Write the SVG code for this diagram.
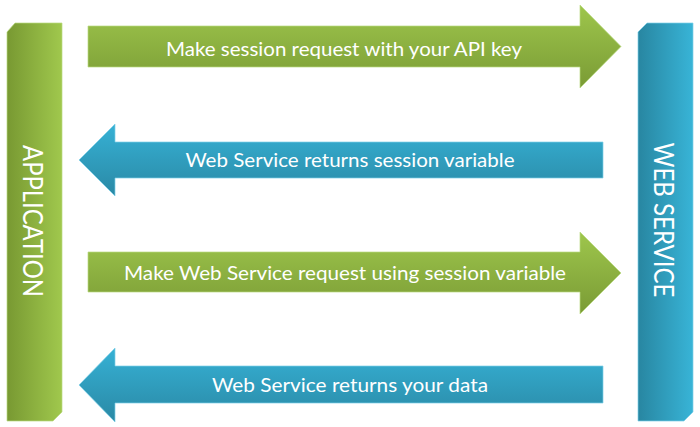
<svg xmlns="http://www.w3.org/2000/svg" width="700" height="427" viewBox="0 0 700 427">
  <defs>
    <linearGradient id="gArrow" x1="0" y1="0" x2="0" y2="1">
      <stop offset="0" stop-color="#9ec64c"/>
      <stop offset="1" stop-color="#7a9b35"/>
    </linearGradient>
    <linearGradient id="bArrow" x1="0" y1="0" x2="0" y2="1">
      <stop offset="0" stop-color="#36b1d5"/>
      <stop offset="1" stop-color="#2a89a5"/>
    </linearGradient>
    <linearGradient id="gBar" x1="0" y1="0" x2="1" y2="0">
      <stop offset="0" stop-color="#789932"/>
      <stop offset="1" stop-color="#a0c84d"/>
    </linearGradient>
    <linearGradient id="bBar" x1="0" y1="0" x2="1" y2="0">
      <stop offset="0" stop-color="#2886a1"/>
      <stop offset="1" stop-color="#38b4d7"/>
    </linearGradient>
  </defs>
  <style>
    .lbl { font-family: Lato, "Open Sans", "Liberation Sans", sans-serif; font-size: 20px; fill: #ffffff; text-anchor: middle; }
    .side { font-family: Lato, "Open Sans", "Liberation Sans", sans-serif; font-size: 27px; fill: #ffffff; text-anchor: middle; dominant-baseline: central; }
    .ga { fill: url(#gArrow); stroke: #b9da80; stroke-opacity: 0.7; stroke-width: 1; }
    .ba { fill: url(#bArrow); stroke: #7fd0e8; stroke-opacity: 0.7; stroke-width: 1; }
  </style>
  <rect width="700" height="427" fill="#ffffff"/>

  <g id="application">
    <polygon points="15,23 62,23 62,412 53,421 7,421 7,32" fill="url(#gBar)" stroke="#b9da80" stroke-opacity="0.7"/>
    <text class="side" transform="translate(33,221) rotate(90)" textLength="152" lengthAdjust="spacingAndGlyphs">APPLICATION</text>
  </g>

  <g id="web-service">
    <polygon points="647,23 693,23 693,412 684,421 638,421 638,32" fill="url(#bBar)" stroke="#7fd0e8" stroke-opacity="0.7"/>
    <text class="side" transform="translate(664,220) rotate(90)" textLength="155" lengthAdjust="spacingAndGlyphs">WEB SERVICE</text>
  </g>

  <g id="connectors">
    <g id="arrow-1">
      <polygon class="ga" points="88,26 580,26 580,5 621,46.5 580,88 580,67 88,67"/>
      <text class="lbl" x="344" y="56" textLength="356" lengthAdjust="spacingAndGlyphs">Make session request with your API key</text>
    </g>
    <g id="arrow-2">
      <polygon class="ba" points="603,142 115,142 115,124 79,160 115,196 115,178 603,178"/>
      <text class="lbl" x="350" y="167" textLength="329" lengthAdjust="spacingAndGlyphs">Web Service returns session variable</text>
    </g>
    <g id="arrow-3">
      <polygon class="ga" points="88,252 580,252 580,232 621,273 580,314 580,292 88,292"/>
      <text class="lbl" x="345" y="280" textLength="442" lengthAdjust="spacingAndGlyphs">Make Web Service request using session variable</text>
    </g>
    <g id="arrow-4">
      <polygon class="ba" points="603,366 115,366 115,348 79,385 115,422 115,403 603,403"/>
      <text class="lbl" x="350" y="392" textLength="276" lengthAdjust="spacingAndGlyphs">Web Service returns your data</text>
    </g>
  </g>
</svg>
